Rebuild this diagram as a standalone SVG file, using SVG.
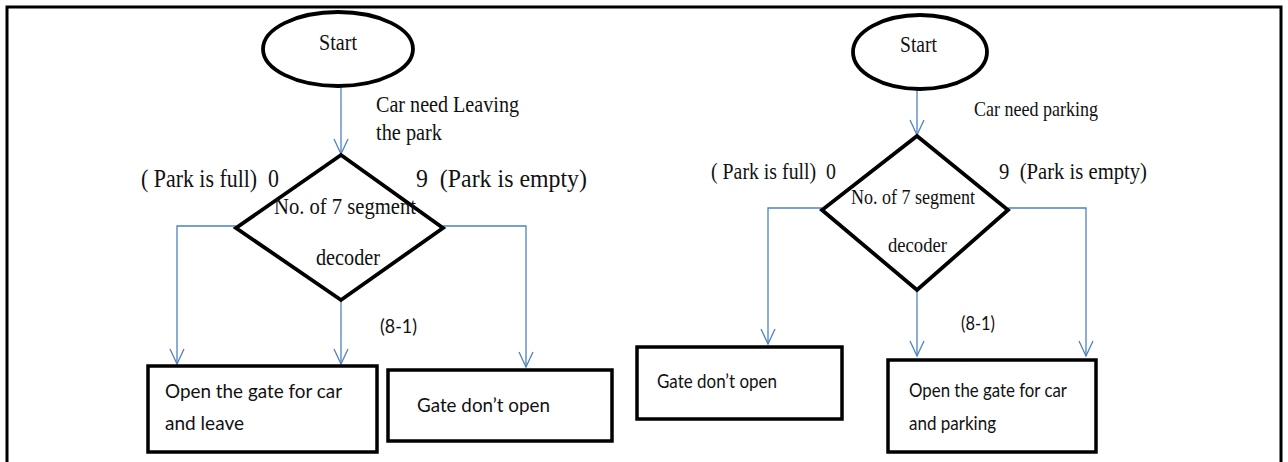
<svg xmlns="http://www.w3.org/2000/svg" width="1288" height="462" viewBox="0 0 1288 462">
  <style>
    .frame { fill: none; stroke: #000; stroke-width: 3; }
    .term { fill: #fff; stroke: #000; stroke-width: 3.8; }
    .dec { fill: #fff; stroke: #000; stroke-width: 3.8; stroke-linejoin: miter; }
    .box { fill: #fff; stroke: #000; stroke-width: 3.5; }
    .link { fill: none; stroke: #4f81bd; stroke-width: 1.3; }
    text { white-space: pre; }
    .serif { font-family: "Liberation Serif", "Times New Roman", serif; fill: #111; }
    .sans { font-family: Lato, "Open Sans", "Liberation Sans", sans-serif; fill: #111; }
  </style>
  <defs>
    <marker id="arrow" markerUnits="userSpaceOnUse" markerWidth="20" markerHeight="20" viewBox="-16 -10 20 20" refX="0" refY="0" orient="auto" overflow="visible">
      <path d="M-15,-7 L0,0 L-15,7" fill="none" stroke="#4f81bd" stroke-width="1.3"/>
    </marker>
  </defs>

  <rect width="1288" height="462" fill="#fff"/>
  <!-- page frame (open at the bottom) -->
  <path class="frame" d="M7,470 V7 H1281 V470"/>

  <!-- connectors -->
  <g id="connectors">
    <!-- exit flow -->
    <path class="link" d="M341,87 V154" marker-end="url(#arrow)"/>
    <path class="link" d="M236,226 H177 V364" marker-end="url(#arrow)"/>
    <path class="link" d="M341,300 V364" marker-end="url(#arrow)"/>
    <path class="link" d="M443,226 H526 V367" marker-end="url(#arrow)"/>
    <!-- entry flow -->
    <path class="link" d="M917,89 V135" marker-end="url(#arrow)"/>
    <path class="link" d="M822,208 H768 V344" marker-end="url(#arrow)"/>
    <path class="link" d="M917,290 V356" marker-end="url(#arrow)"/>
    <path class="link" d="M1008,208 H1086 V356" marker-end="url(#arrow)"/>
  </g>

  <!-- ===== exit flow ===== -->
  <g id="start-exit">
    <ellipse class="term" cx="338" cy="49" rx="75" ry="37"/>
    <text class="serif" x="319" y="50" font-size="24" textLength="38" lengthAdjust="spacingAndGlyphs">Start</text>
  </g>
  <g id="label-exit">
    <text class="serif" x="376" y="112" font-size="24" textLength="143" lengthAdjust="spacingAndGlyphs">Car need Leaving</text>
    <text class="serif" x="376" y="140" font-size="24" textLength="66" lengthAdjust="spacingAndGlyphs">the park</text>
  </g>
  <g id="decision-exit">
    <polygon class="dec" points="341,155 443,228 341,300 236,228"/>
    <text class="serif" x="274" y="214" font-size="23" textLength="142" lengthAdjust="spacingAndGlyphs">No. of 7 segment</text>
    <text class="serif" x="316" y="265" font-size="23" textLength="64" lengthAdjust="spacingAndGlyphs">decoder</text>
  </g>
  <g id="branch-labels-exit">
    <text class="serif" x="141" y="187" font-size="25" textLength="138" lengthAdjust="spacingAndGlyphs">( Park is full)  0</text>
    <text class="serif" x="416" y="187" font-size="25" textLength="171" lengthAdjust="spacingAndGlyphs">9  (Park is empty)</text>
    <text class="sans" x="380" y="333" font-size="19" textLength="37" lengthAdjust="spacingAndGlyphs">(8-1)</text>
  </g>
  <g id="open-leave">
    <rect class="box" x="148" y="366" width="229" height="86"/>
    <text class="sans" x="165" y="398" font-size="20" textLength="177" lengthAdjust="spacingAndGlyphs">Open the gate for car</text>
    <text class="sans" x="165" y="430" font-size="20" textLength="79" lengthAdjust="spacingAndGlyphs">and leave</text>
  </g>
  <g id="closed-exit">
    <rect class="box" x="388" y="370" width="224" height="71"/>
    <text class="sans" x="417" y="412" font-size="20" textLength="133" lengthAdjust="spacingAndGlyphs">Gate don’t open</text>
  </g>

  <!-- ===== entry flow ===== -->
  <g id="start-entry">
    <ellipse class="term" cx="920" cy="52" rx="67" ry="37"/>
    <text class="serif" x="900" y="52" font-size="23" textLength="37" lengthAdjust="spacingAndGlyphs">Start</text>
  </g>
  <g id="label-entry">
    <text class="serif" x="974" y="116" font-size="22" textLength="124" lengthAdjust="spacingAndGlyphs">Car need parking</text>
  </g>
  <g id="decision-entry">
    <polygon class="dec" points="917,136 1008,210 917,290 822,210"/>
    <text class="serif" x="851" y="204" font-size="22" textLength="124" lengthAdjust="spacingAndGlyphs">No. of 7 segment</text>
    <text class="serif" x="888" y="252" font-size="22" textLength="59" lengthAdjust="spacingAndGlyphs">decoder</text>
  </g>
  <g id="branch-labels-entry">
    <text class="serif" x="711" y="179" font-size="24" textLength="125" lengthAdjust="spacingAndGlyphs">( Park is full)  0</text>
    <text class="serif" x="999" y="179" font-size="24" textLength="148" lengthAdjust="spacingAndGlyphs">9  (Park is empty)</text>
    <text class="sans" x="961" y="330" font-size="19" textLength="34" lengthAdjust="spacingAndGlyphs">(8-1)</text>
  </g>
  <g id="closed-entry">
    <rect class="box" x="637" y="347" width="205" height="72"/>
    <text class="sans" x="657" y="388" font-size="19" textLength="120" lengthAdjust="spacingAndGlyphs">Gate don’t open</text>
  </g>
  <g id="open-park">
    <rect class="box" x="888" y="360" width="208" height="92"/>
    <text class="sans" x="909" y="397" font-size="20" textLength="158" lengthAdjust="spacingAndGlyphs">Open the gate for car</text>
    <text class="sans" x="909" y="430" font-size="20" textLength="87" lengthAdjust="spacingAndGlyphs">and parking</text>
  </g>
</svg>
